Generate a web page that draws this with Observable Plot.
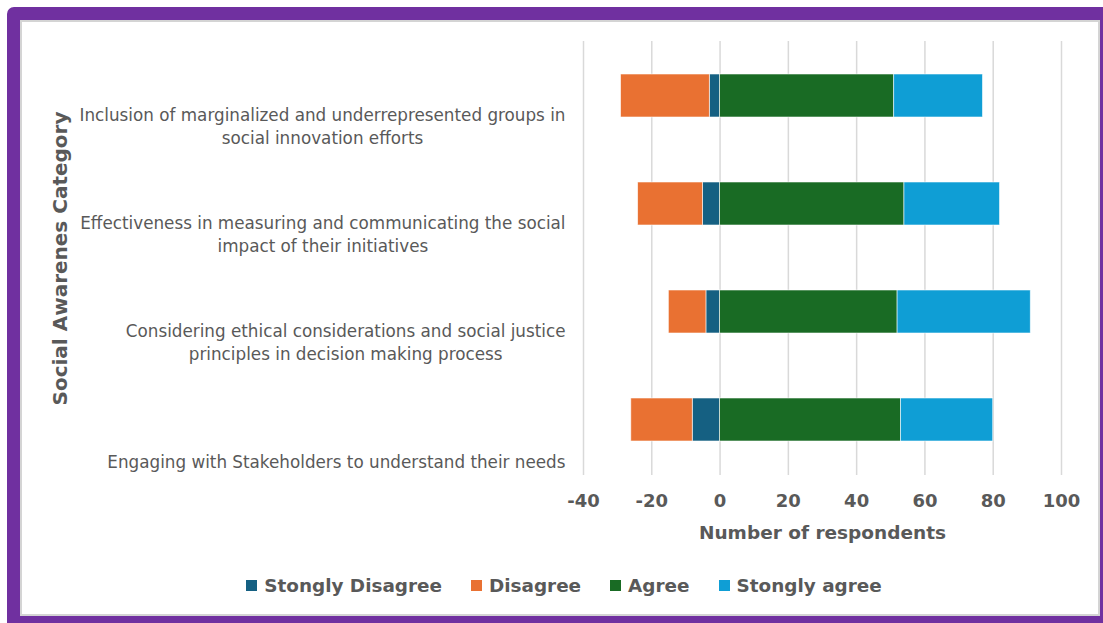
<!DOCTYPE html>
<html><head><meta charset="utf-8">
<script src="https://cdn.jsdelivr.net/npm/d3@7"></script>
<script src="https://cdn.jsdelivr.net/npm/@observablehq/plot@0.6"></script>
<style>
html,body{margin:0;padding:0;width:1103px;height:623px;overflow:hidden;background:#fff;font-family:"DejaVu Sans",sans-serif;}
#frame{position:absolute;left:7px;top:7px;width:1080px;height:596px;border:13px solid #7030A0;border-radius:7px 0 0 0;background:#fff;box-shadow:inset 0 0 0 2px #d4d4d4;}
#chart{position:absolute;left:0;top:0;}
#legend{position:absolute;top:573px;left:0;width:1128px;height:24px;display:flex;justify-content:center;align-items:center;font-family:"DejaVu Sans",sans-serif;font-weight:bold;font-size:18.4px;color:#595959;}
#legend .item{display:flex;align-items:center;margin:0 14.5px;}
#legend .sw{width:11px;height:11px;margin-right:7px;}
</style></head>
<body>
<div id="frame"></div>
<div id="chart"></div>
<div id="legend"></div>
<script>
const categories = [
  "Inclusion of marginalized and underrepresented groups in social innovation efforts",
  "Effectiveness in measuring and communicating the social impact of their initiatives",
  "Considering ethical considerations and social justice principles in decision making process",
  "Engaging with Stakeholders to understand their needs"
];
const categoryLabels = [
  "Inclusion of marginalized and underrepresented groups in\nsocial innovation efforts",
  "Effectiveness in measuring and communicating the social\nimpact of their initiatives",
  "Considering ethical considerations and social justice\nprinciples in decision making process",
  "Engaging with Stakeholders to understand their needs"
];
const series = ["Stongly Disagree", "Disagree", "Agree", "Stongly agree"];
const stronglyDisagree = [3, 5, 4, 8];
const disagree = [26, 19, 11, 18];
const agree = [51, 54, 52, 53];
const stronglyAgree = [26, 28, 39, 27];
const xTicks = [-40, -20, 0, 20, 40, 60, 80, 100];
const colors = ["#156082", "#E97132", "#196B24", "#0F9ED5"];
const xTitle = "Number of respondents";
const yTitle = "Social Awarenes Category";

const table = [];
categories.forEach((c, i) => {
  table.push({category: c, series: series[0], value: -stronglyDisagree[i]});
  table.push({category: c, series: series[1], value: -disagree[i]});
  table.push({category: c, series: series[2], value: agree[i]});
  table.push({category: c, series: series[3], value: stronglyAgree[i]});
});

const grey = "#595959";
const chart = Plot.plot({
  width: 1103,
  height: 560,
  marginLeft: 583,
  marginRight: 42,
  marginTop: 41,
  marginBottom: 85,
  style: {background: "transparent", fontFamily: "DejaVu Sans, sans-serif", overflow: "visible"},
  x: {domain: [-40, 100], axis: null},
  y: {domain: categories, axis: null, paddingInner: 0.6, paddingOuter: 0.3},
  color: {domain: series, range: colors},
  marks: [
    Plot.ruleX(xTicks, {stroke: "#d9d9d9", strokeWidth: 1.5}),
    Plot.barX(table, Plot.stackX({x: "value", y: "category", fill: "series", stroke: "#ffffff", strokeWidth: 0.8, strokeOpacity: 0.7})),
    Plot.axisX({ticks: xTicks, tickFormat: d => String(d), tickSize: 0, tickPadding: 19, fontSize: 18, fontWeight: "bold", fill: grey, label: null}),
    Plot.text(categories, {y: d => d, text: (d, i) => categoryLabels[i], frameAnchor: "left", textAnchor: "end", lineAnchor: "bottom", dx: -18, dy: 48, fontSize: 16.8, lineHeight: 23 / 16.8, fill: grey}),
    Plot.text([xTitle], {text: d => d, frameAnchor: "bottom", textAnchor: "middle", lineAnchor: "bottom", dy: 63, fontSize: 18.5, fontWeight: "bold", fill: grey}),
    Plot.text([yTitle], {text: d => d, frameAnchor: "left", textAnchor: "middle", lineAnchor: "middle", dx: -523, rotate: -90, fontSize: 20, fontWeight: "bold", fill: grey})
  ]
});
document.getElementById("chart").appendChild(chart);

// center the lines of each category label relative to each other (Excel style)
const flat = categoryLabels.map(s => s.replace("\n", ""));
chart.querySelectorAll("text").forEach(el => {
  if (flat.includes(el.textContent)) {
    const w = el.getBBox().width;
    el.setAttribute("text-anchor", "middle");
    el.setAttribute("transform", (el.getAttribute("transform") || "") + ` translate(${-w / 2},0)`);
  }
});

const legend = document.getElementById("legend");
series.forEach((s, i) => {
  const item = document.createElement("div");
  item.className = "item";
  const sw = document.createElement("span");
  sw.className = "sw";
  sw.style.background = colors[i];
  const t = document.createElement("span");
  t.textContent = s;
  item.appendChild(sw);
  item.appendChild(t);
  legend.appendChild(item);
});
</script>
</body></html>
